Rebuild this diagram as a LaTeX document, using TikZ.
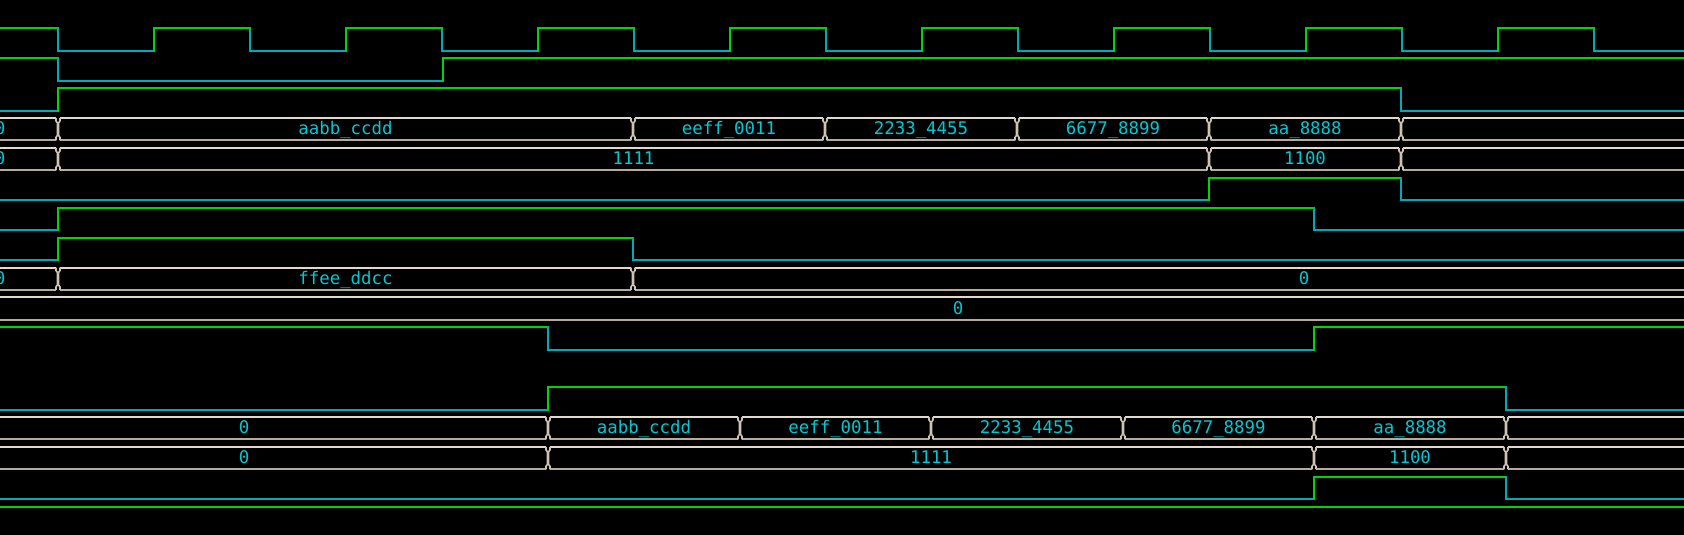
\documentclass[tikz,border=0pt]{standalone}
\usepackage{fontspec}
\newfontfamily\wavefont{DejaVu Sans Mono}
\definecolor{wgreen}{RGB}{0,215,0}
\definecolor{wcyan}{RGB}{0,170,185}
\definecolor{wtext}{RGB}{0,200,212}
\definecolor{busTop}{RGB}{228,216,200}
\definecolor{busBot}{RGB}{182,170,155}
\definecolor{busMid}{RGB}{206,194,178}
\tikzset{
  hiline/.style={draw=wgreen,line width=2pt,line cap=rect},
  loline/.style={draw=wcyan,line width=2pt,line cap=rect},
  bustop/.style={draw=busTop,line width=2pt},
  busbot/.style={draw=busBot,line width=2pt},
  busend/.style={draw=busMid,line width=1.6pt},
  wtxt/.style={text=wtext,font=\wavefont\fontsize{17.4}{20}\selectfont,anchor=base,inner sep=0pt}
}
\newcommand\wHi[3]{\draw[hiline] (#2,{28.3+29.9*#1}) -- (#3,{28.3+29.9*#1});}
\newcommand\wLo[3]{\draw[loline] (#2,{50.7+29.9*#1}) -- (#3,{50.7+29.9*#1});}
\newcommand\wRise[2]{\draw[hiline] (#2,{50.7+29.9*#1}) -- (#2,{28.3+29.9*#1});}
\newcommand\wFall[2]{\draw[loline] (#2,{28.3+29.9*#1}) -- (#2,{50.7+29.9*#1});}
\newcommand\busSeg[3]{%
  \pgfmathsetmacro\bT{28.3+29.9*#1}%
  \pgfmathsetmacro\bB{\bT+22.4}%
  \draw[bustop] (#2+2,\bT) -- (#3-2,\bT);
  \draw[busbot] (#2+2,\bB) -- (#3-2,\bB);
  \draw[busend] (#3-2,\bT) -- (#3-2,\bT+3) -- (#3-0.5,\bT+5) -- (#3-0.5,\bB-5) -- (#3-2,\bB-3) -- (#3-2,\bB);
  \draw[busend] (#2+2,\bT) -- (#2+2,\bT+3) -- (#2+0.5,\bT+5) -- (#2+0.5,\bB-5) -- (#2+2,\bB-3) -- (#2+2,\bB);
}
\newcommand\busTxt[4]{\node[wtxt] (#1) at (#3,{28.3+29.9*#2+22.4-5.6}) {#4};}
\begin{document}
\begin{tikzpicture}[x=1pt,y=-1pt]
\fill[black] (0,0) rectangle (1684,535);
\useasboundingbox (0,0) rectangle (1684,535);
\begin{scope}
\clip (0,0) rectangle (1684,535);
% row 0: clock
\wHi{0}{-5}{58}
\foreach \j in {0,2,...,16} {
  \pgfmathsetmacro\xa{58+96*\j}\pgfmathsetmacro\xb{\xa+96}
  \wFall{0}{\xa}\wLo{0}{\xa}{\xb}
}
\foreach \j in {1,3,...,15} {
  \pgfmathsetmacro\xa{58+96*\j}\pgfmathsetmacro\xb{\xa+96}
  \wRise{0}{\xa}\wHi{0}{\xa}{\xb}
}
% row 1
\wHi{1}{-5}{58}\wFall{1}{58}\wLo{1}{58}{443}\wRise{1}{443}\wHi{1}{443}{1690}
% row 2
\wLo{2}{-5}{58}\wRise{2}{58}\wHi{2}{58}{1401}\wFall{2}{1401}\wLo{2}{1401}{1690}
% row 3 bus
\busSeg{3}{-20}{58}\busSeg{3}{58}{633}\busSeg{3}{633}{825}\busSeg{3}{825}{1017}
\busSeg{3}{1017}{1209}\busSeg{3}{1209}{1401}\busSeg{3}{1401}{1700}
\busTxt{t3a}{3}{0}{0}
\busTxt{t3b}{3}{345.5}{aabb\_ccdd}
\busTxt{t3c}{3}{729}{eeff\_0011}
\busTxt{t3d}{3}{921}{2233\_4455}
\busTxt{t3e}{3}{1113}{6677\_8899}
\busTxt{t3f}{3}{1305}{aa\_8888}
% row 4 bus
\busSeg{4}{-20}{58}\busSeg{4}{58}{1209}\busSeg{4}{1209}{1401}\busSeg{4}{1401}{1700}
\busTxt{t4a}{4}{0}{0}
\busTxt{t4b}{4}{633.5}{1111}
\busTxt{t4c}{4}{1305}{1100}
% row 5
\wLo{5}{-5}{1209}\wRise{5}{1209}\wHi{5}{1209}{1401}\wFall{5}{1401}\wLo{5}{1401}{1690}
% row 6
\wLo{6}{-5}{58}\wRise{6}{58}\wHi{6}{58}{1314}\wFall{6}{1314}\wLo{6}{1314}{1690}
% row 7
\wLo{7}{-5}{58}\wRise{7}{58}\wHi{7}{58}{633}\wFall{7}{633}\wLo{7}{633}{1690}
% row 8 bus
\busSeg{8}{-20}{58}\busSeg{8}{58}{633}\busSeg{8}{633}{1700}
\busTxt{t8a}{8}{0}{0}
\busTxt{t8b}{8}{345.5}{ffee\_ddcc}
\busTxt{t8c}{8}{1304}{0}
% row 9 bus
\busSeg{9}{-20}{1700}
\busTxt{t9a}{9}{958}{0}
% row 10
\wHi{10}{-5}{548}\wFall{10}{548}\wLo{10}{548}{1314}\wRise{10}{1314}\wHi{10}{1314}{1690}
% row 12
\wLo{12}{-5}{548}\wRise{12}{548}\wHi{12}{548}{1506}\wFall{12}{1506}\wLo{12}{1506}{1690}
% row 13 bus
\busSeg{13}{-20}{548}\busSeg{13}{548}{740}\busSeg{13}{740}{931}\busSeg{13}{931}{1123}
\busSeg{13}{1123}{1314}\busSeg{13}{1314}{1506}\busSeg{13}{1506}{1700}
\busTxt{t13a}{13}{244}{0}
\busTxt{t13b}{13}{644}{aabb\_ccdd}
\busTxt{t13c}{13}{835.5}{eeff\_0011}
\busTxt{t13d}{13}{1027}{2233\_4455}
\busTxt{t13e}{13}{1218.5}{6677\_8899}
\busTxt{t13f}{13}{1410}{aa\_8888}
% row 14 bus
\busSeg{14}{-20}{548}\busSeg{14}{548}{1314}\busSeg{14}{1314}{1506}\busSeg{14}{1506}{1700}
\busTxt{t14a}{14}{244}{0}
\busTxt{t14b}{14}{931}{1111}
\busTxt{t14c}{14}{1410}{1100}
% row 15
\wLo{15}{-5}{1314}\wRise{15}{1314}\wHi{15}{1314}{1506}\wFall{15}{1506}\wLo{15}{1506}{1690}
% row 16
\wHi{16}{-5}{1690}
\end{scope}
\end{tikzpicture}
\end{document}
